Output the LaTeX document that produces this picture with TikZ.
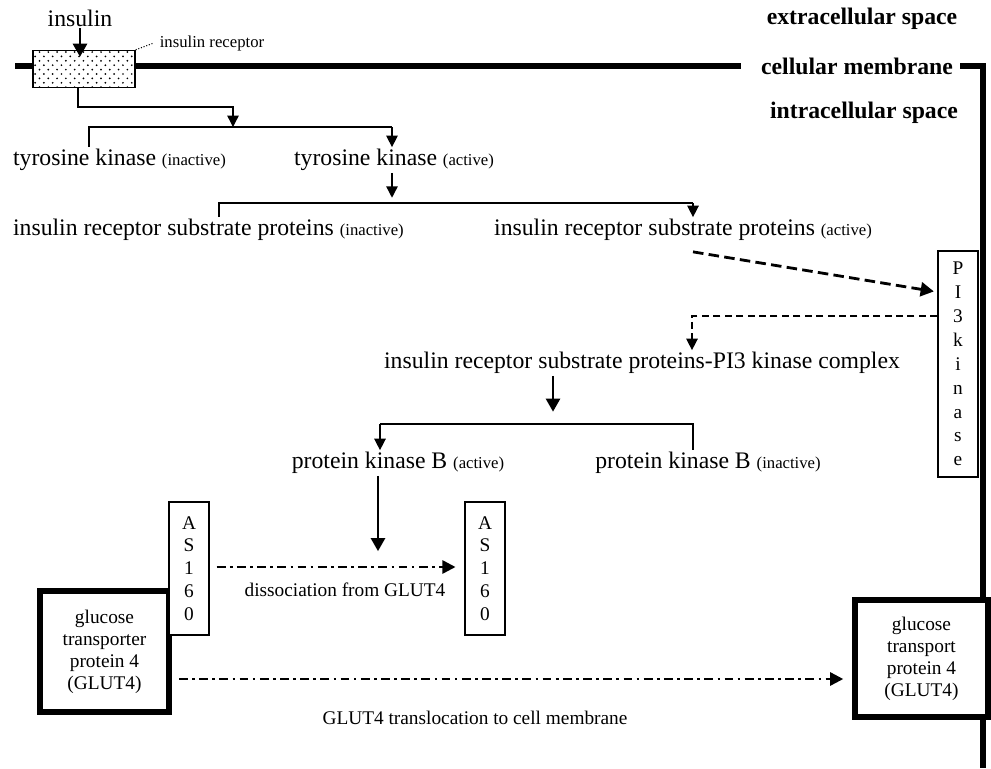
\documentclass[tikz,border=0pt]{standalone}
\usepackage{fontspec}
\setmainfont{Liberation Serif}
\usepackage{tikz}
\usetikzlibrary{arrows.meta,patterns}
\pgfdeclarepatternformonly{sparse dots}{\pgfqpoint{-1pt}{-1pt}}{\pgfqpoint{4pt}{4pt}}{\pgfqpoint{5pt}{5pt}}{%
  \pgfpathcircle{\pgfqpoint{0pt}{0pt}}{0.55pt}
  \pgfpathcircle{\pgfqpoint{2.5pt}{2.5pt}}{0.55pt}
  \pgfusepath{fill}}
\tikzstyle{txt} = [inner sep=1pt, font=\fontsize{13.5}{16}\selectfont]
\tikzstyle{tag} = [inner sep=1pt, font=\bfseries\fontsize{13.5}{16}\selectfont]
\tikzstyle{note} = [inner sep=1pt, font=\fontsize{11}{13}\selectfont]
\tikzstyle{letters} = [draw, line width=0.8pt, fill=white, align=center, inner sep=0pt, minimum width=0.8cm, font=\fontsize{11}{13.6}\selectfont]
\tikzstyle{glut} = [draw, line width=3.4pt, fill=white, align=center, inner sep=0pt, font=\fontsize{11}{12.5}\selectfont]
\tikzstyle{membrane} = [line width=3.6pt]
\tikzstyle{branch} = [line width=0.8pt]
\tikzstyle{arr} = [line width=0.8pt, -{Triangle[width=6.5pt,length=6.5pt]}]
\tikzstyle{fat} = [line width=1.6pt, -{Triangle[width=8pt,length=7.5pt]}]
\tikzstyle{dasharr} = [line width=1.6pt, dash pattern=on 6pt off 3pt, -{Triangle[width=8pt,length=7.5pt]}]
\tikzstyle{thindash} = [line width=0.8pt, dash pattern=on 4pt off 2.5pt, -{Triangle[width=6.5pt,length=6.5pt]}]
\tikzstyle{dashdot} = [line width=1.4pt, dash pattern=on 5pt off 2.5pt on 1.5pt off 2.5pt, -{Triangle[width=7.5pt,length=7.5pt]}]
\newcommand{\st}[1]{{\fontsize{9.5}{11}\selectfont #1}}

\begin{document}
\begin{tikzpicture}[x=0.02cm, y=-0.02cm]
	\useasboundingbox (0,0) rectangle (991,768);
	
	% membrane, receptor and the three compartments
	\node[txt] (ins) at (80,18) {insulin};
	\node[draw, line width=0.8pt, pattern=sparse dots, inner sep=0pt, minimum width=2.04cm, minimum height=0.74cm] (rec) at (84,69) {};
	\node[txt, font=\fontsize{9.5}{11}\selectfont] (reclbl) at (212,43) {insulin receptor};
	\node[tag] (ext) at (862,19) {extracellular space};
	\node[tag] (mem) at (857,66) {cellular membrane};
	\node[tag] (intr) at (864,113) {intracellular space};
	\coordinate (mL) at (15,66);
	\coordinate (mB) at (983,768);
	
	\draw[membrane] (mL) -- (mL -| rec.west);
	\draw[membrane] (mL -| rec.east) -- ([xshift=-10pt]mem.west);
	\draw[membrane, line join=miter] ([xshift=3pt]mem.east) -| (mB);
	\draw[densely dotted, line width=0.6pt] (rec.north east) -- ([shift={(-4,0)}]reclbl.west);
	\draw[fat, shorten >=-4pt] (ins.south) -- (ins.south |- rec.north);
	
	% tyrosine kinase
	\node[txt, anchor=west] (tkI) at (11,160) {tyrosine kinase \st{(inactive)}};
	\node[txt] (tkA) at (394,160) {tyrosine kinase \st{(active)}};
	\coordinate (j0) at (78,107);
	\coordinate (t1) at (233,127);
	\coordinate (fl) at (89,127);
	\coordinate (fr) at (392,127);
	\draw[arr] (rec.south -| j0) -- (j0) -| (t1);
	\draw[branch] (fl |- tkI.north) -- (fl) -- (fr);
	\draw[arr] (fr) -- (fr |- tkA.north);
	
	% insulin receptor substrate proteins
	\node[txt, anchor=west] (irsI) at (11,230) {insulin receptor substrate proteins \st{(inactive)}};
	\node[txt] (irsA) at (683,230) {insulin receptor substrate proteins \st{(active)}};
	\coordinate (gl) at (219,203);
	\coordinate (gr) at (693,203);
	\draw[arr, shorten >=3pt] (tkA.south -| fr) -- (fr |- gl);
	\draw[branch] (gl |- irsI.north) -- (gl) -- (gr);
	\draw[arr] (gr) -- (gr |- irsA.north);
	
	% PI3 kinase
	\node[letters, minimum height=4.52cm] (pi3) at (958,364) {P\\I\\3\\k\\i\\n\\a\\s\\e};
	\node[txt] (cplx) at (642,363) {insulin receptor substrate proteins-PI3 kinase complex};
	\coordinate (k) at (692,316);
	\draw[dasharr, shorten >=2pt] ([shift={(10,9)}]irsA.south) -- ([shift={(0,-72)}]pi3.west);
	\draw[thindash] ([shift={(0,-48)}]pi3.west) -- (k) -- (k |- cplx.north);
	
	% protein kinase B
	\node[txt] (pkbA) at (398,463) {protein kinase B \st{(active)}};
	\node[txt] (pkbI) at (708,463) {protein kinase B \st{(inactive)}};
	\coordinate (m) at (553,424);
	\coordinate (hl) at (380,424);
	\coordinate (hr) at (693,424);
	\draw[fat, shorten >=7pt] (cplx.south -| m) -- (m);
	\draw[branch] (hl) -- (hr) -- (hr |- pkbI.north);
	\draw[arr] (hl) -- (hl |- pkbA.north);
	
	% AS160 and GLUT4
	\node[glut, minimum width=2.58cm, minimum height=2.42cm] (g1) at (104.5,651.5) {glucose\\transporter\\protein 4\\(GLUT4)};
	\node[letters, minimum height=2.66cm, font=\fontsize{11}{13}\selectfont] (as1) at (189,568.5) {A\\S\\1\\6\\0};
	\node[letters, minimum height=2.66cm, font=\fontsize{11}{13}\selectfont] (as2) at (485,568.5) {A\\S\\1\\6\\0};
	\coordinate (d) at (378,567);
	\draw[fat, shorten >=9pt] (pkbA.south -| d) -- (d);
	\draw[dashdot, shorten <=4pt, shorten >=5pt] (as1.east |- d) -- (as2.west |- d);
	\node[note] (dis) at (345,590) {dissociation from GLUT4};
	
	\node[glut, minimum width=2.66cm, minimum height=2.34cm] (g2) at (921.5,658.5) {glucose\\transport\\protein 4\\(GLUT4)};
	\coordinate (tr) at (0,679);
	\draw[dashdot, shorten <=4pt, shorten >=5pt] (g1.east |- tr) -- (g2.west |- tr);
	\node[note] (trl) at (475,718) {GLUT4 translocation to cell membrane};
\end{tikzpicture}
\end{document}
